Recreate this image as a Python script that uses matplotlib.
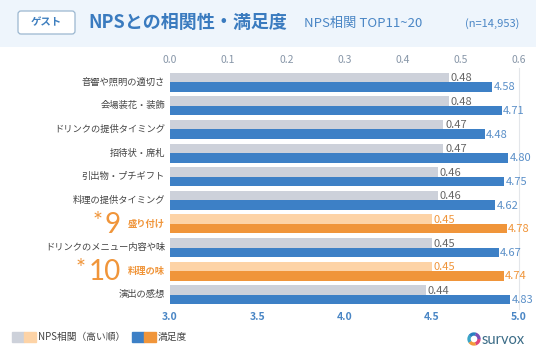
import matplotlib
matplotlib.use("Agg")
import matplotlib.pyplot as plt
import matplotlib.patches as patches
from matplotlib.transforms import blended_transform_factory

plt.rcParams['font.family'] = ['Noto Sans CJK JP', 'DejaVu Sans']

categories = ['音響や照明の適切さ', '会場装花・装飾', 'ドリンクの提供タイミング', '招待状・席札',
              '引出物・プチギフト', '料理の提供タイミング', '盛り付け', 'ドリンクのメニュー内容や味',
              '料理の味', '演出の感想']
nps = [0.48, 0.48, 0.47, 0.47, 0.46, 0.46, 0.45, 0.45, 0.45, 0.44]
satisfaction = [4.58, 4.71, 4.48, 4.80, 4.75, 4.62, 4.78, 4.67, 4.74, 4.83]
highlight = {6: '9', 8: '10'}
top_ticks = [0.0, 0.1, 0.2, 0.3, 0.4, 0.5, 0.6]
bottom_ticks = [3.0, 3.5, 4.0, 4.5, 5.0]

GRAY, LORANGE = '#cdd1da', '#fdd3a6'
BLUE, ORANGE = '#3d80c6', '#f0953a'
BLUE_TXT = '#5a8fc8'

W, H = 536, 355
fig = plt.figure(figsize=(W / 100, H / 100), dpi=100)

# header band
hdr = fig.add_axes([0, 1 - 47 / H, 1, 47 / H])
hdr.set_xlim(0, W)
hdr.set_ylim(47, 0)
hdr.axis('off')
hdr.add_patch(patches.Rectangle((0, 0), W, 47, color='#eef5fc'))
hdr.add_patch(patches.FancyBboxPatch((18, 11), 57, 23, boxstyle='round,pad=0,rounding_size=3',
                                     fc='white', ec='#9bb7d0', lw=0.9))
hdr.text(46.5, 22.5, 'ゲスト', ha='center', va='center', fontsize=7.5, color='#3d7ebf', fontweight='bold')
hdr.text(88, 22, 'NPSとの相関性・満足度', ha='left', va='center', fontsize=13,
         color='#3a7bbf', fontweight='bold')
hdr.text(304, 23, 'NPS相関 TOP11~20', ha='left', va='center', fontsize=9.5, color='#4a86c5')
hdr.text(465, 24, '(n=14,953)', ha='left', va='center', fontsize=8, color='#4a86c5')

# main chart
ax = fig.add_axes([170 / W, 1 - 309 / H, 349 / W, 241 / H])
ax.set_xlim(0, 0.6)
ax.set_ylim(len(categories) - 0.4, -0.6)
ax2 = ax.twiny()
ax2.set_xlim(0.23, 4.946)
ax3 = ax.twiny()
ax3.set_xlim(3.0, 5.0)

ys = list(range(len(categories)))
gcol = [LORANGE if i in highlight else GRAY for i in ys]
bcol = [ORANGE if i in highlight else BLUE for i in ys]
ax.barh([y - 0.2 for y in ys], nps, height=0.4, color=gcol)
ax2.barh([y + 0.2 for y in ys], satisfaction, height=0.4, color=bcol, left=0)

for i in ys:
    ax.text(nps[i] + 0.003, i - 0.17, f'{nps[i]:.2f}', va='center', ha='left', fontsize=8,
            color=ORANGE if i in highlight else '#666666')
    ax2.text(satisfaction[i] + 0.02, i + 0.22, f'{satisfaction[i]:.2f}', va='center', ha='left',
             fontsize=8, color=ORANGE if i in highlight else BLUE_TXT, clip_on=False)

# axes styling
ax.xaxis.set_ticks_position('top')
ax.set_xticks(top_ticks)
ax.set_xticklabels([f'{t:.1f}' for t in top_ticks], fontsize=7.5, color='#8796a8')
ax.tick_params(axis='x', length=0, pad=2)
ax.set_yticks([])
ax2.set_xticks([])
ax3.xaxis.set_ticks_position('bottom')
ax3.set_xticks(bottom_ticks)
ax3.set_xticklabels([f'{t:.1f}' for t in bottom_ticks], fontsize=7.5, color='#4a86c5',
                    fontweight='bold')
ax3.tick_params(axis='x', length=0, pad=2)
for a in (ax, ax2, ax3):
    for s in a.spines.values():
        s.set_visible(False)
ax.spines['right'].set_visible(True)
ax.spines['right'].set_color('#e3e6ea')
ax.spines['right'].set_linewidth(0.8)

# category labels
tr = blended_transform_factory(fig.transFigure, ax.transData)
for i, c in enumerate(categories):
    hl = i in highlight
    ax.text(165 / W, i, c, transform=tr, ha='right', va='center', fontsize=6.7,
            color=ORANGE if hl else '#444444', fontweight='bold' if hl else 'normal')
    if hl:
        ax.text(121 / W, i + 0.03, highlight[i], transform=tr, ha='right', va='center',
                fontsize=20, color=ORANGE, family=['Lato', 'DejaVu Sans'])
        xs = 103 if len(highlight[i]) == 1 else 86
        ax.text(xs / W, i - 0.1, '*', transform=tr, ha='right', va='center',
                fontsize=17, color=ORANGE, family=['Lato', 'DejaVu Sans'])

# legend
leg = fig.add_axes([0, 0, 1, 30 / H])
leg.set_xlim(0, W)
leg.set_ylim(H, H - 30)
leg.axis('off')
for x0, col in [(12, GRAY), (24, LORANGE), (132, BLUE), (144, ORANGE)]:
    leg.add_patch(patches.Rectangle((x0, 332), 11.5, 10, color=col))
leg.text(38, 337, 'NPS相関（高い順）', ha='left', va='center', fontsize=7, color='#444444')
leg.text(158, 337, '満足度', ha='left', va='center', fontsize=7, color='#444444')

# logo
ring_cols = ['#e0457b', '#f39a3a', '#3aa6c8', '#2a7fc1', '#7a4fb5']
for k, col in enumerate(ring_cols):
    leg.add_patch(patches.Arc((474, 339), 10, 10, theta1=k * 72, theta2=(k + 1) * 72 + 2,
                              color=col, lw=2.4))
leg.text(482, 339.5, 'survox', ha='left', va='center', fontsize=10.5, color='#3b6c87',
         family=['Lato', 'DejaVu Sans'])

fig.savefig('out.png', dpi=100)
